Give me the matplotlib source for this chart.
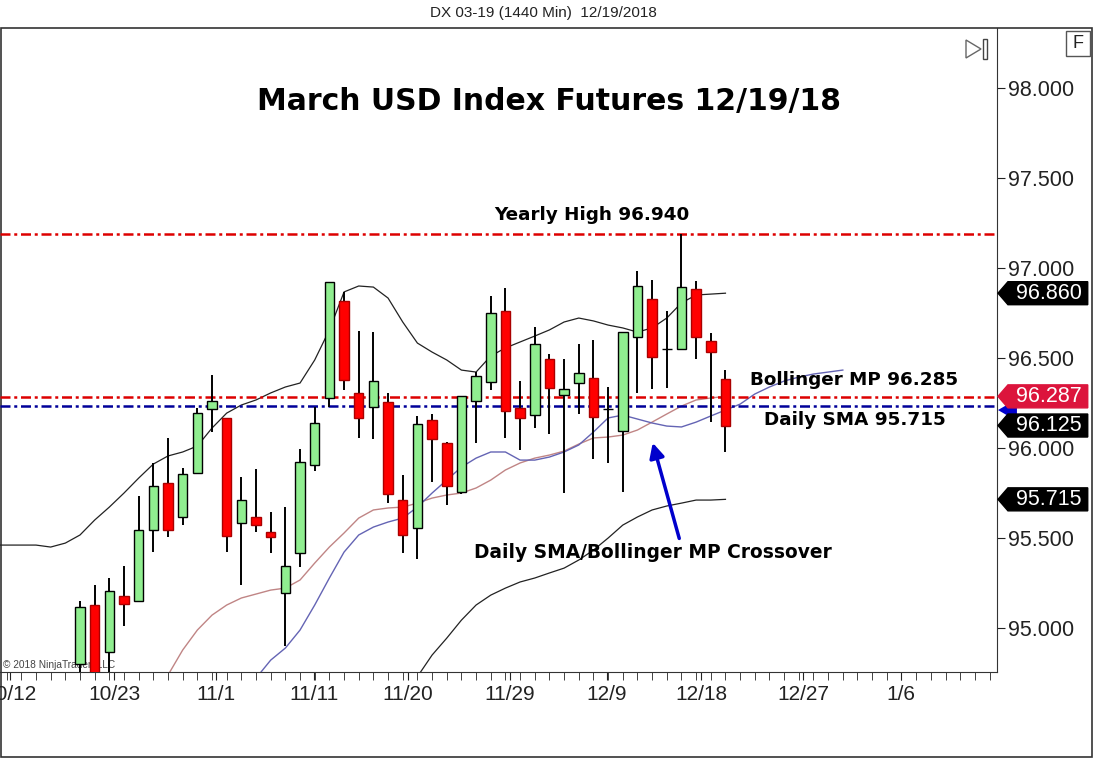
import matplotlib
matplotlib.use('Agg')
import matplotlib.pyplot as plt
from matplotlib.patches import Polygon, Rectangle
from matplotlib.transforms import blended_transform_factory
import numpy as np

plt.rcParams['font.family'] = ['Liberation Sans', 'DejaVu Sans']

# daily candles (DX 03-19), first bar = index 0
opens = [94.800, 95.128, 94.867, 95.178, 95.150, 95.544, 95.806, 95.617, 95.861, 96.217,
         96.167, 95.583, 95.617, 95.533, 95.194, 95.417, 95.906, 96.278, 96.817, 96.306,
         96.228, 96.256, 95.711, 95.556, 96.156, 96.028, 95.756, 96.261, 96.367, 96.761,
         96.222, 96.183, 96.494, 96.294, 96.361, 96.389, 96.217, 96.094, 96.617, 96.828,
         96.550, 96.550, 96.883, 96.594, 96.383]
highs = [95.150, 95.239, 95.278, 95.344, 95.733, 95.917, 96.056, 95.889, 96.222, 96.406,
         96.167, 95.839, 95.883, 95.644, 95.672, 95.994, 96.228, 96.922, 96.867, 96.650,
         96.644, 96.306, 95.850, 96.178, 96.189, 96.033, 96.289, 96.422, 96.844, 96.889,
         96.372, 96.672, 96.522, 96.494, 96.578, 96.600, 96.339, 96.644, 96.983, 96.933,
         96.761, 97.189, 96.928, 96.639, 96.433]
lows = [94.720, 94.700, 94.740, 95.011, 95.150, 95.422, 95.506, 95.572, 95.861, 96.089,
        95.422, 95.239, 95.533, 95.417, 94.900, 95.339, 95.872, 96.228, 96.322, 96.056,
        96.050, 95.694, 95.417, 95.383, 95.811, 95.683, 95.744, 96.028, 96.322, 96.056,
        95.989, 96.111, 96.078, 95.750, 96.189, 95.939, 95.917, 95.756, 96.306, 96.328,
        96.333, 96.550, 96.494, 96.144, 95.978]
closes = [95.117, 94.740, 95.206, 95.133, 95.544, 95.789, 95.544, 95.856, 96.194, 96.261,
          95.511, 95.711, 95.572, 95.506, 95.344, 95.922, 96.139, 96.922, 96.378, 96.167,
          96.372, 95.744, 95.517, 96.133, 96.050, 95.789, 96.289, 96.400, 96.750, 96.206,
          96.167, 96.578, 96.333, 96.328, 96.417, 96.172, 96.217, 96.644, 96.900, 96.506,
          96.550, 96.894, 96.617, 96.533, 96.125]

# indicators, each starts at the given bar index
upper_start = -6
upper_band = [95.461, 95.461, 95.461, 95.461, 95.450, 95.472, 95.517, 95.600, 95.672, 95.750,
              95.833, 95.911, 95.956, 95.978, 96.011, 96.111, 96.194, 96.239, 96.267, 96.306,
              96.339, 96.361, 96.489, 96.656, 96.867, 96.900, 96.894, 96.833, 96.700, 96.583,
              96.533, 96.489, 96.433, 96.422, 96.511, 96.556, 96.589, 96.622, 96.656, 96.700,
              96.722, 96.706, 96.683, 96.667, 96.644, 96.667, 96.722, 96.806, 96.850, 96.855,
              96.860]
mp_start = 6
bollinger_mp = [94.739, 94.878, 94.989, 95.072, 95.128, 95.167, 95.189, 95.211, 95.222, 95.267,
                95.361, 95.450, 95.528, 95.611, 95.656, 95.667, 95.672, 95.694, 95.722, 95.739,
                95.750, 95.778, 95.822, 95.878, 95.917, 95.944, 95.961, 95.983, 96.022, 96.056,
                96.061, 96.072, 96.100, 96.144, 96.189, 96.233, 96.267, 96.278, 96.287]
sma_start = 12
daily_sma = [94.722, 94.822, 94.889, 94.989, 95.128, 95.278, 95.422, 95.517, 95.561, 95.589,
             95.611, 95.672, 95.750, 95.822, 95.894, 95.944, 95.978, 95.978, 95.933, 95.933,
             95.950, 95.978, 96.017, 96.089, 96.167, 96.183, 96.161, 96.139, 96.122, 96.117,
             96.144, 96.178, 96.211, 96.244, 96.300, 96.339, 96.372, 96.394, 96.411, 96.422,
             96.433]
lower_start = 22
lower_band = [94.600, 94.730, 94.850, 94.944, 95.044, 95.128, 95.183, 95.222, 95.256, 95.278,
              95.306, 95.333, 95.378, 95.433, 95.500, 95.572, 95.617, 95.656, 95.678, 95.694,
              95.711, 95.711, 95.715]

yearly_high = 97.19
mp_level = 96.285
sma_level = 96.235

y_ticks = [95.0, 95.5, 96.0, 96.5, 97.0, 97.5, 98.0]
date_labels = ['10/12', '10/23', '11/1', '11/11', '11/20', '11/29', '12/9', '12/18', '12/27', '1/6']
date_pos = [-4.74, 2.32, 9.27, 15.95, 22.36, 29.31, 35.92, 42.33, 49.28, 55.97]

tag_values = [96.860, 96.287, 96.125, 95.715]
tag_colors = ['black', '#dc143c', 'black', 'black']

fig = plt.figure(figsize=(10.94, 7.6), dpi=100)
fig.patch.set_facecolor('white')

# pixel overlay for frame, header and toolbar bits
ov = fig.add_axes([0, 0, 1, 1])
ov.set_xlim(0, 1094)
ov.set_ylim(760, 0)
ov.axis('off')
ov.set_zorder(0)
ov.add_patch(Rectangle((0.5, 28), 1091.5, 729, fill=False, edgecolor='#333333', lw=1.2))
ov.text(543, 13, 'DX 03-19 (1440 Min)  12/19/2018', ha='center', va='center',
        fontsize=11, color='#222222')
ov.add_patch(Rectangle((1066, 31), 24, 25, facecolor='white', edgecolor='#555555', lw=1))
ov.text(1078, 44, 'F', ha='center', va='center', fontsize=13, color='#222222')
ov.add_patch(Polygon([(966, 40), (966, 58), (981, 49)], closed=True, fill=False,
                     edgecolor='#666666', lw=1))
ov.add_patch(Rectangle((983, 39), 4, 20, fill=False, edgecolor='#444444', lw=1))
ov.text(3, 665, '© 2018 NinjaTrader, LLC', ha='left', va='center', fontsize=7.3, color='#444444')

ax = fig.add_axes([0, 88 / 760, 997 / 1094, 644 / 760])
ax.set_zorder(1)
ax.patch.set_alpha(0)

idx = np.arange(len(opens))
o = np.array(opens)
c = np.array(closes)
up = c >= o
body_col = np.where(up, '#90ee90', '#ff0000')
edge_col = np.where(up, 'black', '#aa0000')

ax.vlines(idx, lows, highs, color='black', lw=1.4, zorder=3)
ax.bar(idx, np.abs(c - o), bottom=np.minimum(o, c), width=0.65, color=body_col,
       edgecolor=edge_col, lw=1, zorder=4)

def line(start, vals, **kw):
    ax.plot(np.arange(start, start + len(vals)), vals, **kw)

line(upper_start, upper_band, color='#222222', lw=0.9, zorder=2)
line(lower_start, lower_band, color='#222222', lw=0.9, zorder=2)
line(mp_start, bollinger_mp, color='#c08585', lw=1.0, zorder=2)
line(sma_start, daily_sma, color='#6464b4', lw=1.0, zorder=2)

dd = (0, (4, 1.5, 1.2, 1.5))
ax.axhline(yearly_high, color='#dd0000', lw=1.8, ls=dd, zorder=2)
ax.axhline(mp_level, color='#dd0000', lw=1.8, ls=dd, zorder=2)
ax.axhline(sma_level, color='#000099', lw=1.8, ls=dd, zorder=2)

ax.set_xlim(-5.453, 62.51)
ax.set_ylim(94.756, 98.333)

# axes styling
for s in ['top', 'left']:
    ax.spines[s].set_visible(False)
for s in ['right', 'bottom']:
    ax.spines[s].set_color('#333333')
ax.yaxis.tick_right()
ax.set_yticks(y_ticks)
ax.set_yticklabels(['%.3f' % v for v in y_ticks])
ax.tick_params(axis='y', direction='out', length=6, labelsize=15.5, pad=2, colors='#222222')
ax.set_xticks(date_pos)
ax.set_xticklabels(date_labels)
ax.set_xticks(np.arange(-5, 63), minor=True)
ax.tick_params(axis='x', which='both', direction='out', length=6, labelsize=15, pad=3,
               colors='#222222')

# price tags on the axis
tr = blended_transform_factory(ax.transAxes, ax.transData)
h = 11.5 / 180
sv = daily_sma[44 - sma_start]
ax.add_patch(Polygon([(1.001, sv), (1.011, sv + h * 0.5), (1.02, sv + h * 0.5),
                      (1.02, sv - h * 0.5), (1.011, sv - h * 0.5)], closed=True,
                     facecolor='#0000cc', transform=tr, clip_on=False, zorder=5))
for v, col in zip(tag_values, tag_colors):
    ax.add_patch(Polygon([(1.001, v), (1.011, v + h), (1.091, v + h), (1.091, v - h),
                          (1.011, v - h)], closed=True, facecolor=col, edgecolor=col,
                         transform=tr, clip_on=False, zorder=6))
    ax.text(1.052, v, '%.3f' % v, transform=tr, ha='center', va='center',
            fontsize=15.5, color='white', zorder=7)

# annotations (heavier font, like the original)
bold = dict(family='DejaVu Sans', fontweight='bold', zorder=8)
ax.text(31.97, 97.925, 'March USD Index Futures 12/19/18', ha='center', va='center',
        fontsize=21.5, **bold)
ax.text(34.9, 97.294, 'Yearly High 96.940', ha='center', va='center', fontsize=13.2, **bold)
ax.text(45.67, 96.378, 'Bollinger MP 96.285', ha='left', va='center', fontsize=13.2, **bold)
ax.text(46.63, 96.156, 'Daily SMA 95.715', ha='left', va='center', fontsize=13.2, **bold)
ax.text(26.86, 95.422, 'Daily SMA/Bollinger MP Crossover', ha='left', va='center',
        fontsize=13.4, **bold)
ax.annotate('', xy=(38.99, 96.044), xytext=(40.9, 95.483),
            arrowprops=dict(arrowstyle='-|>', color='#0000cc', lw=2.5, mutation_scale=22),
            zorder=8)

fig.savefig('out.png', dpi=100)
